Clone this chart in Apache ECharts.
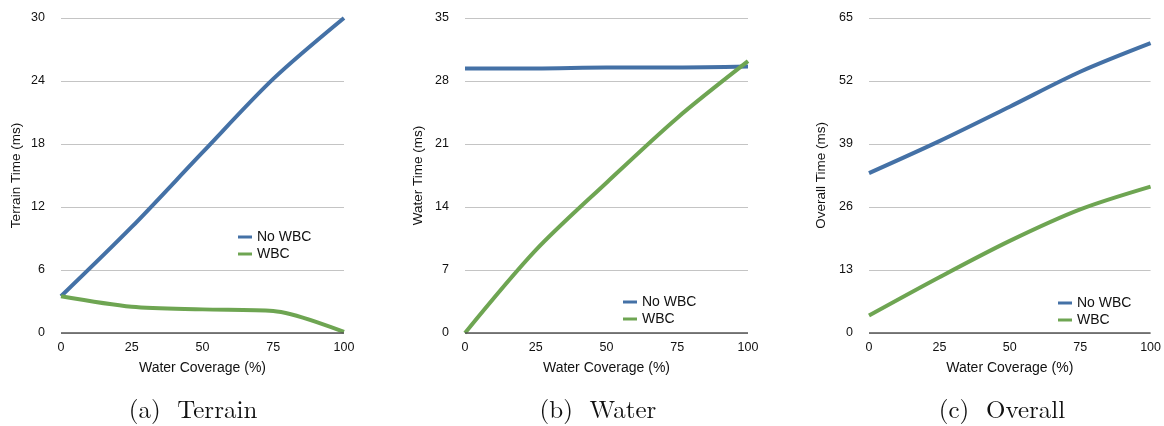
<!DOCTYPE html>
<html>
<head>
<meta charset="utf-8">
<script src="https://cdn.jsdelivr.net/npm/echarts@6/dist/echarts.min.js"></script>
<style>
html,body{margin:0;padding:0;background:#fff;}
#c{width:1164px;height:426px;}
</style>
</head>
<body>
<div id="c"></div>
<script>
// ---- data ----
const coverage = [0, 25, 50, 75, 100];
const terrainNoWBC = [3.5, 10.1, 17.2, 24.2, 30.0];
const terrainWBC = [3.5, 2.5, 2.25, 2.1, 0.1];
const waterNoWBC = [29.4, 29.4, 29.5, 29.5, 29.6];
const waterWBC = [0, 9.2, 16.7, 23.9, 30.2];
const overallNoWBC = [33.0, 39.6, 46.7, 53.9, 59.8];
const overallWBC = [3.6, 11.5, 19.0, 25.5, 30.2];
const seriesNames = ['No WBC', 'WBC'];
const yNames = ['Terrain Time (ms)', 'Water Time (ms)', 'Overall Time (ms)'];
const yMax = [30, 35, 65];
const yStep = [6, 7, 13];
const xName = 'Water Coverage (%)';
const captions = ['(a)  Terrain', '(b)  Water', '(c)  Overall'];

const BLUE = '#4471a6', GREEN = '#6ea552';
const pairs = (ys) => coverage.map((x, i) => [x, ys[i]]);

const grids = [
  {left: 61, width: 283, top: 18, height: 315},
  {left: 465, width: 283, top: 18, height: 315},
  {left: 869, width: 284, top: 18, height: 315}
];
const legendPos = [
  {left: 233, top: 225},
  {left: 618, top: 290},
  {left: 1053, top: 291}
];
const captionX = [188, 593, 997];
const yNameGap = [38, 40, 41];

const font = 'Helvetica, "Liberation Sans", Arial, sans-serif';
const data = [[terrainNoWBC, terrainWBC], [waterNoWBC, waterWBC], [overallNoWBC, overallWBC]];

const option = {
  backgroundColor: '#fff',
  animation: false,
  grid: grids.map(g => Object.assign({containLabel: false}, g)),
  title: captions.map((t, i) => ({
    text: t, left: captionX[i], top: 393, textAlign: 'center',
    textStyle: {fontFamily: '"Latin Modern Roman", "DejaVu Serif", "Liberation Serif", serif', fontSize: 25, fontWeight: 'normal', color: '#111'}
  })),
  legend: legendPos.map((p, i) => ({
    data: seriesNames, orient: 'vertical', left: p.left, top: p.top,
    icon: 'rect', itemWidth: 14, itemHeight: 3, itemGap: 3,
    textStyle: {fontFamily: font, fontSize: 14, color: '#111', lineHeight: 14},
    selectedMode: false
  })),
  xAxis: grids.map((g, i) => ({
    type: 'value', gridIndex: i, min: 0, max: 100, interval: 25,
    name: xName, nameLocation: 'middle', nameGap: 28,
    nameTextStyle: {fontFamily: font, fontSize: 14, color: '#111'},
    axisLine: {show: false}, axisTick: {show: false}, splitLine: {show: false},
    axisLabel: {fontFamily: font, fontSize: 12.5, color: '#111', margin: 8}
  })),
  yAxis: grids.map((g, i) => ({
    type: 'value', gridIndex: i, min: 0, max: yMax[i], interval: yStep[i],
    name: yNames[i], nameLocation: 'middle', nameGap: yNameGap[i],
    nameTextStyle: {fontFamily: font, fontSize: 13.5, color: '#111'},
    axisLine: {show: false}, axisTick: {show: false},
    splitLine: {show: true, lineStyle: {color: '#c4c4c4', width: 1}},
    axisLabel: {fontFamily: font, fontSize: 12.5, color: '#111', margin: 16}
  })),
  series: []
};

for (let i = 0; i < 3; i++) {
  // zero baseline
  option.series.push({
    type: 'line', xAxisIndex: i, yAxisIndex: i, silent: true, showSymbol: false,
    data: [], markLine: {silent: true, symbol: 'none', label: {show: false},
      lineStyle: {color: '#555', width: 1.5, type: 'solid'}, data: [{yAxis: 0}]}
  });
  [BLUE, GREEN].forEach((c, k) => {
    option.series.push({
      name: seriesNames[k], type: 'line', xAxisIndex: i, yAxisIndex: i,
      data: pairs(data[i][k]), smooth: 0.3, showSymbol: false, symbol: 'none',
      lineStyle: {color: c, width: 4}, itemStyle: {color: c}, z: 3 + k
    });
  });
}

const chart = echarts.init(document.getElementById('c'), null, {renderer: 'canvas'});
chart.setOption(option);
</script>
</body>
</html>
